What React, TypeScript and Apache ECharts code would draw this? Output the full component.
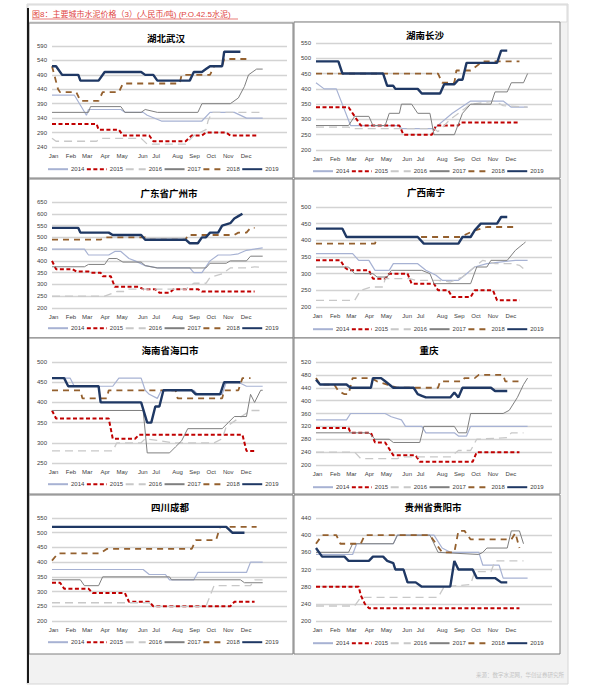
import React, { useEffect, useRef } from "react";
import * as echarts from "echarts";

const YEARS = ["2014", "2015", "2016", "2017", "2018", "2019"];
const MONTHS = ["Jan", "Feb", "Mar", "Apr", "May", "Jun", "Jul", "Aug", "Sep", "Oct", "Nov", "Dec"];
const MONTH_POS = [0.4, 4.7, 8.7, 13.1, 17.3, 22.4, 25.7, 31.0, 35.2, 39.3, 43.5, 47.9];

// 湖北武汉 [week, price]
const WUHAN_2014 = [[0, 420], [5.5, 420], [8.5, 350], [9, 370], [17, 370], [18, 360], [22.5, 360], [23.5, 350], [27, 330], [37, 330], [39, 360], [45, 360], [48, 340], [52, 340]];
const WUHAN_2015 = [[0, 320], [11, 320], [11.5, 300], [16.5, 300], [17.5, 280], [24, 280], [25, 260], [33, 260], [34.5, 280], [37, 280], [38, 290], [43, 290], [44, 280], [50.5, 280]];
const WUHAN_2016 = [[0, 270], [1, 260], [11, 260], [12, 270], [22, 270], [23.5, 250], [33, 250], [35, 280], [38, 300], [38.5, 330], [39.5, 360], [52, 360]];
const WUHAN_2017 = [[0, 360], [9, 360], [9.5, 380], [17, 380], [18, 360], [22, 360], [23, 370], [26, 360], [36, 360], [37, 390], [44, 390], [46, 410], [47.5, 450], [48.5, 490], [50.5, 510], [52, 510]];
const WUHAN_2018 = [[0, 520], [1.5, 440], [2, 430], [6, 430], [7, 400], [11.5, 400], [12.5, 430], [16.5, 430], [17.5, 460], [31.5, 460], [32, 490], [39, 490], [40, 520], [42, 520], [42.5, 545], [48.5, 545]];
const WUHAN_2019 = [[0, 520], [1, 520], [2.5, 490], [6.5, 490], [7, 470], [11.5, 470], [13, 500], [22, 500], [23, 490], [25, 490], [26, 470], [34, 470], [35, 500], [37, 500], [38, 510], [39, 520], [42, 520], [42.5, 570], [46.5, 570]];

// 湖南长沙
const CHANGSHA_2014 = [[0, 420], [2, 400], [5, 400], [8.5, 280], [20.5, 280], [21, 270], [29, 270], [33.5, 320], [38, 360], [46, 360], [48, 340], [52, 340]];
const CHANGSHA_2015 = [[0, 340], [8, 340], [9.5, 310], [11, 280], [20.5, 280], [21.5, 250], [28.5, 250], [29.5, 280], [35, 280], [35.5, 290], [50, 290]];
const CHANGSHA_2016 = [[0, 275], [8, 275], [9, 270], [29, 270], [30, 260], [33, 300], [38, 350], [44, 360], [46, 345], [52, 340]];
const CHANGSHA_2017 = [[0, 280], [8, 280], [9.5, 310], [13, 310], [14, 280], [17, 280], [18, 320], [20.5, 320], [21, 350], [23.5, 350], [25, 320], [28, 320], [29, 250], [34, 250], [36, 320], [38, 350], [43, 350], [44, 390], [47, 390], [48, 420], [51, 420], [52, 450]];
const CHANGSHA_2018 = [[0, 450], [30, 450], [31, 420], [34, 420], [34.5, 460], [38, 460], [41, 490], [50, 490]];
const CHANGSHA_2019 = [[0, 490], [5.5, 490], [6.5, 450], [16.5, 450], [17.5, 410], [19, 410], [19.5, 400], [25, 400], [26, 385], [30.5, 385], [31.5, 415], [34, 415], [35, 430], [36, 430], [37, 485], [44.5, 485], [45.5, 525], [47, 525]];

// 广东省广州市
const GUANGZHOU_2014 = [[0, 450], [8, 450], [9, 425], [14, 425], [15.5, 440], [17, 440], [19, 410], [20.5, 400], [23, 380], [26, 370], [34, 370], [35, 350], [37, 350], [39, 400], [41, 425], [44, 425], [46, 430], [48, 445], [52, 455]];
const GUANGZHOU_2015 = [[0, 400], [1, 365], [5, 365], [6, 355], [9, 355], [9.5, 350], [12, 350], [12.5, 335], [14.5, 335], [15.5, 290], [21.5, 290], [22.5, 280], [25.5, 280], [26.5, 265], [29, 265], [30, 280], [36, 280], [37, 270], [50, 270]];
const GUANGZHOU_2016 = [[0, 250], [13, 250], [14.5, 260], [16, 270], [18, 270], [19, 280], [33, 280], [35, 305], [38, 305], [39, 330], [42, 345], [44, 370], [48, 370], [50, 375], [52, 372]];
const GUANGZHOU_2017 = [[0, 375], [8, 375], [9, 385], [13, 385], [14, 410], [16, 410], [17.5, 395], [22, 395], [23, 380], [26, 370], [38, 370], [39, 390], [43, 390], [44, 400], [48, 400], [49, 420], [52, 420]];
const GUANGZHOU_2018 = [[0, 490], [12, 490], [13, 500], [23, 500], [24, 490], [33, 490], [33.5, 510], [45, 510], [46, 520], [48, 520], [49, 540], [50, 540]];
const GUANGZHOU_2019 = [[0, 540], [6.5, 540], [7, 520], [14, 520], [15, 510], [22, 510], [23, 490], [33, 490], [34, 475], [36, 475], [37, 500], [38, 500], [39, 520], [41, 520], [42, 550], [44, 560], [45, 580], [46, 590], [47, 600]];

// 广西南宁
const NANNING_2014 = [[0, 360], [9, 360], [10.5, 340], [13, 340], [14.5, 310], [18, 310], [19, 330], [25, 330], [27, 310], [29.5, 295], [31, 280], [35, 280], [37, 300], [39, 320], [42, 330], [49, 340], [52, 340]];
const NANNING_2015 = [[0, 340], [6, 340], [7, 320], [8, 310], [13, 310], [14, 285], [17, 285], [18, 300], [22.5, 300], [23.5, 270], [29, 270], [30, 250], [32.5, 250], [33.5, 230], [38, 230], [39, 250], [43.5, 250], [44.5, 220], [50, 220]];
const NANNING_2016 = [[0, 220], [9.5, 220], [11, 250], [13.5, 260], [16.5, 260], [17, 285], [23, 285], [24.5, 280], [30, 280], [33, 275], [36, 290], [41, 340], [44, 330], [48, 330], [50, 325], [51.5, 310]];
const NANNING_2017 = [[0, 320], [8, 320], [9.5, 300], [14, 300], [15, 290], [17.5, 290], [18.5, 310], [26, 310], [28, 300], [29, 270], [38, 270], [39.5, 320], [42, 320], [43, 340], [47, 340], [49, 370], [51, 390], [51.5, 395]];
const NANNING_2018 = [[0, 390], [14.5, 390], [15, 410], [35.5, 410], [39, 430], [42, 440], [49, 440]];
const NANNING_2019 = [[0, 435], [6.5, 435], [7.5, 410], [25, 410], [26.5, 390], [35, 390], [36, 410], [38, 410], [39, 430], [40.5, 450], [44.5, 450], [45.5, 470], [47, 470]];

// 海南省海口市
const HAIKOU_2014 = [[0, 460], [4.5, 460], [5.5, 440], [15, 440], [16.5, 460], [22, 460], [23, 430], [24, 420], [26, 410], [27, 430], [35, 430], [36, 420], [42, 420], [43, 450], [46, 450], [48, 440], [52, 440]];
const HAIKOU_2015 = [[0, 380], [1, 360], [14, 360], [15, 310], [20.5, 310], [21.5, 320], [47, 320], [48, 280], [50, 280]];
const HAIKOU_2016 = [[0, 280], [15, 280], [16, 300], [22, 300], [23, 310], [30, 300], [40, 300], [42, 310], [43, 340], [46, 360], [49, 380], [52, 380]];
const HAIKOU_2017 = [[0, 380], [22.5, 380], [23.5, 275], [29, 275], [30.5, 290], [32, 305], [33.5, 335], [42, 335], [43.5, 350], [45, 365], [48, 365], [49, 420], [50, 400], [51.5, 430], [52, 430]];
const HAIKOU_2018 = [[0, 430], [7, 430], [7.5, 410], [13.5, 410], [14, 430], [30.5, 430], [31, 410], [42, 410], [42.5, 430], [46, 430], [47, 460], [49, 460]];
const HAIKOU_2019 = [[0, 460], [3, 460], [4, 440], [11.5, 440], [12, 400], [22, 400], [23.5, 350], [24.5, 350], [25.5, 390], [26.5, 390], [27.5, 430], [34.5, 430], [35.5, 420], [41.5, 420], [42.5, 450], [46.5, 450]];

// 重庆
const CHONGQING_2014 = [[0, 340], [7.5, 340], [8.5, 360], [17, 360], [18.5, 350], [21, 340], [22, 320], [26, 320], [27, 300], [34, 300], [35, 290], [37, 290], [38, 320], [52, 320]];
const CHONGQING_2015 = [[0, 315], [8, 315], [8.5, 300], [13.5, 300], [14.5, 270], [17, 270], [19, 230], [24.5, 230], [25.5, 210], [38.5, 210], [39.5, 240], [50, 240]];
const CHONGQING_2016 = [[0, 240], [9.5, 240], [11, 220], [20, 220], [21, 225], [33, 225], [35, 245], [38, 245], [39.5, 280], [47, 285], [48, 300], [51, 300]];
const CHONGQING_2017 = [[0, 300], [13, 300], [14.5, 280], [18, 280], [19, 270], [25.5, 270], [26.5, 320], [34, 320], [35, 300], [37, 300], [38, 360], [46, 360], [47.5, 370], [49.5, 410], [51, 450], [52, 470]];
const CHONGQING_2018 = [[0, 470], [1, 450], [4.5, 450], [5.5, 430], [7, 420], [8, 420], [9, 470], [13.5, 470], [15, 460], [17.5, 450], [20, 440], [30, 440], [30.5, 460], [36, 460], [36.5, 470], [39, 470], [40, 480], [46, 480], [46.5, 460], [50, 460]];
const CHONGQING_2019 = [[0, 465], [1, 450], [7.5, 450], [8.5, 440], [13.5, 440], [14, 470], [16, 470], [17, 460], [18, 450], [19, 440], [24, 440], [25, 420], [26, 415], [27, 410], [33, 410], [34, 425], [35, 410], [36, 440], [43, 440], [44, 430], [47, 430]];

// 四川成都
const CHENGDU_2014 = [[0, 375], [22.5, 375], [24, 358], [28, 358], [29, 340], [35, 340], [36, 365], [48, 365], [49, 400], [52, 400]];
const CHENGDU_2015 = [[0, 330], [2, 330], [3, 310], [9, 310], [10, 295], [18, 295], [19, 265], [24, 265], [25, 250], [44, 250], [45, 265], [50, 265]];
const CHENGDU_2016 = [[0, 262], [24, 262], [25, 250], [38, 250], [40, 320], [49, 320], [50, 340], [52, 340]];
const CHENGDU_2017 = [[0, 340], [7, 340], [8, 320], [11.5, 320], [12.5, 350], [29, 350], [29.5, 340], [46.5, 340], [47.5, 330], [52, 330]];
const CHENGDU_2018 = [[0, 405], [1.5, 430], [12, 430], [13.5, 445], [34.5, 445], [35.5, 475], [40.5, 475], [41.5, 520], [50.5, 520]];
const CHENGDU_2019 = [[0, 520], [43, 520], [44.5, 500], [47.5, 500]];

// 贵州省贵阳市
const GUIYANG_2014 = [[0, 355], [9, 355], [10, 380], [19, 380], [20, 400], [29, 400], [31, 370], [33, 360], [40, 360], [41, 330], [45, 330], [46, 300], [52, 300]];
const GUIYANG_2015 = [[0, 280], [10.5, 280], [11, 260], [12, 240], [13, 230], [50, 230]];
const GUIYANG_2016 = [[0, 235], [9.5, 235], [11, 255], [30, 255], [31.5, 280], [38, 285], [39, 315], [43, 315], [44, 340], [51, 340]];
const GUIYANG_2017 = [[0, 360], [8, 360], [9, 380], [19, 380], [20, 400], [28, 400], [29, 380], [30, 360], [40, 355], [41, 360], [42, 370], [47, 370], [48, 410], [50, 410], [51, 380]];
const GUIYANG_2018 = [[0, 380], [1.5, 400], [5, 400], [6, 380], [11, 380], [12, 400], [28, 400], [29.5, 380], [31, 360], [34, 360], [35, 410], [36.5, 410], [38, 390], [48, 390], [49, 405], [50, 370]];
const GUIYANG_2019 = [[0, 370], [1.5, 350], [7, 350], [8, 340], [13, 340], [14, 350], [16.5, 350], [17.5, 340], [19, 335], [19.5, 320], [21.5, 320], [22.5, 290], [24.5, 290], [26, 280], [33, 280], [34, 340], [35, 320], [38.5, 320], [39.5, 300], [44, 300], [45.5, 290], [47, 290]];

const PANEL_TITLES = ["湖北武汉", "湖南长沙", "广东省广州市", "广西南宁", "海南省海口市", "重庆", "四川成都", "贵州省贵阳市"];
const Y_MIN = [240, 200, 200, 200, 250, 200, 200, 200];
const Y_MAX = [590, 550, 650, 500, 500, 520, 550, 440];
const Y_STEP = [50, 50, 50, 50, 50, 40, 50, 40];
const PANEL_DATA = [
  [WUHAN_2014, WUHAN_2015, WUHAN_2016, WUHAN_2017, WUHAN_2018, WUHAN_2019],
  [CHANGSHA_2014, CHANGSHA_2015, CHANGSHA_2016, CHANGSHA_2017, CHANGSHA_2018, CHANGSHA_2019],
  [GUANGZHOU_2014, GUANGZHOU_2015, GUANGZHOU_2016, GUANGZHOU_2017, GUANGZHOU_2018, GUANGZHOU_2019],
  [NANNING_2014, NANNING_2015, NANNING_2016, NANNING_2017, NANNING_2018, NANNING_2019],
  [HAIKOU_2014, HAIKOU_2015, HAIKOU_2016, HAIKOU_2017, HAIKOU_2018, HAIKOU_2019],
  [CHONGQING_2014, CHONGQING_2015, CHONGQING_2016, CHONGQING_2017, CHONGQING_2018, CHONGQING_2019],
  [CHENGDU_2014, CHENGDU_2015, CHENGDU_2016, CHENGDU_2017, CHENGDU_2018, CHENGDU_2019],
  [GUIYANG_2014, GUIYANG_2015, GUIYANG_2016, GUIYANG_2017, GUIYANG_2018, GUIYANG_2019],
];

// layout: panel box, plot rect, title position, legend position
const LAYOUT = [
  { box: [29, 23, 264, 155], plot: [52, 46, 235, 101], title: [166, 38], legend: [47, 171] },
  { box: [294, 22, 266, 156], plot: [316, 43, 236, 107], title: [425, 35], legend: [312, 173] },
  { box: [29, 179, 264, 159], plot: [52, 202, 235, 106], title: [169, 193], legend: [47, 330] },
  { box: [294, 179, 266, 159], plot: [316, 207, 236, 100], title: [426, 192], legend: [312, 331] },
  { box: [29, 338, 264, 156], plot: [52, 362, 235, 101], title: [170, 350], legend: [47, 486] },
  { box: [294, 338, 266, 156], plot: [316, 362, 236, 103], title: [429, 350], legend: [312, 489] },
  { box: [29, 495, 264, 159], plot: [52, 518, 235, 103], title: [170, 507], legend: [47, 644] },
  { box: [294, 495, 266, 159], plot: [316, 518, 236, 103], title: [433, 507], legend: [312, 645] },
];

const YEAR_STYLES: any[] = [
  { color: "#a7b2d3", width: 1.2, type: "solid" },
  { color: "#c00000", width: 2, type: [4, 2.5] },
  { color: "#c8c8c8", width: 1.3, type: [8, 5] },
  { color: "#7f7f7f", width: 1, type: "solid" },
  { color: "#94602e", width: 1.8, type: [6, 5] },
  { color: "#1f3864", width: 2.4, type: "solid" },
];

const FONT = "Arial, 'Liberation Sans', 'Noto Sans CJK SC', sans-serif";

function buildOption() {
  const grid: any[] = [];
  const xAxis: any[] = [];
  const yAxis: any[] = [];
  const series: any[] = [];
  const legend: any[] = [];
  const graphic: any[] = [];

  graphic.push({ type: "rect", z: -20, shape: { x: 27, y: 4, width: 541, height: 680 }, style: { fill: "#f2f2f2", stroke: "#d6d6d6", lineWidth: 1 } });
  graphic.push({ type: "rect", z: -19, shape: { x: 28, y: 5, width: 539, height: 17 }, style: { fill: "#ffffff", stroke: "#d9d9d9", lineWidth: 1 } });
  graphic.push({ type: "text", z: 10, x: 32, y: 14, style: { text: "图8：主要城市水泥价格（3）(人民币/吨) (P.O.42.5水泥)", fill: "#e0443e", fontSize: 8, fontFamily: FONT, verticalAlign: "middle" } });
  graphic.push({ type: "line", z: 10, shape: { x1: 32, y1: 19, x2: 238, y2: 19 }, style: { stroke: "#e0443e", lineWidth: 0.7 } });
  graphic.push({ type: "text", z: 10, x: 564, y: 675, style: { text: "来源：数字水泥网，华创证券研究所", fill: "#c4c4c4", fontSize: 5.5, fontFamily: FONT, align: "right", verticalAlign: "middle" } });

  LAYOUT.forEach((L, i) => {
    const [bx, by, bw, bh] = L.box;
    const [px, py, pw, ph] = L.plot;
    graphic.push({ type: "rect", z: -10, shape: { x: bx, y: by, width: bw, height: bh }, style: { fill: "#ffffff", stroke: "#7f7f7f", lineWidth: 1 } });
    graphic.push({ type: "text", z: 10, x: L.title[0], y: L.title[1], style: { text: PANEL_TITLES[i], fill: "#000000", fontSize: 9.5, fontWeight: "bold", fontFamily: "'Noto Sans CJK SC', sans-serif", align: "center", verticalAlign: "middle" } });

    grid.push({ left: px, top: py, width: pw, height: ph, containLabel: false });
    xAxis.push({
      gridIndex: i,
      type: "value",
      min: 0,
      max: 58,
      axisLine: { show: false },
      axisTick: { show: false },
      splitLine: { show: false },
      axisLabel: {
        customValues: MONTH_POS,
        formatter: (v: number) => {
          const k = MONTH_POS.findIndex((p) => Math.abs(p - v) < 1e-6);
          return k >= 0 ? MONTHS[k] : "";
        },
        fontSize: 6,
        color: "#404040",
        fontFamily: FONT,
        margin: 6,
      },
    });
    yAxis.push({
      gridIndex: i,
      type: "value",
      min: Y_MIN[i],
      max: Y_MAX[i],
      interval: Y_STEP[i],
      axisLine: { show: false },
      axisTick: { show: false },
      splitLine: { show: true, lineStyle: { color: "#d3d3d3", width: 1.3 } },
      axisLabel: { fontSize: 6, color: "#404040", fontFamily: FONT, margin: 5 },
    });
    YEARS.forEach((yr, k) => {
      const st = YEAR_STYLES[k];
      series.push({
        id: `p${i}-${yr}`,
        name: yr,
        type: "line",
        xAxisIndex: i,
        yAxisIndex: i,
        data: PANEL_DATA[i][k],
        showSymbol: false,
        symbol: "none",
        lineStyle: { color: st.color, width: st.width, type: st.type },
        itemStyle: { color: st.color },
        z: 2 + k,
      });
    });
    legend.push({
      left: L.legend[0],
      top: L.legend[1] - 5,
      data: YEARS,
      itemWidth: 20,
      itemHeight: 8,
      itemGap: 1.5,
      padding: 0,
      itemStyle: { opacity: 0 },
      textStyle: { fontSize: 6, color: "#404040", fontFamily: FONT, padding: [0, 0, 0, -2] },
      selectedMode: false,
    });
  });

  graphic.push({ type: "line", z: 20, shape: { x1: 28, y1: 8, x2: 28, y2: 683 }, style: { stroke: "#1a1a1a", lineWidth: 2 } });

  return { animation: false, backgroundColor: "#ffffff", grid, xAxis, yAxis, series, legend, graphic };
}

export default function App() {
  const ref = useRef<HTMLDivElement>(null);
  useEffect(() => {
    if (!ref.current) return;
    const chart = echarts.init(ref.current, undefined, { renderer: "svg" });
    chart.setOption(buildOption() as any);
    return () => chart.dispose();
  }, []);
  return <div ref={ref} style={{ position: "absolute", left: 0, top: 0, width: 595, height: 691 }} />;
}
